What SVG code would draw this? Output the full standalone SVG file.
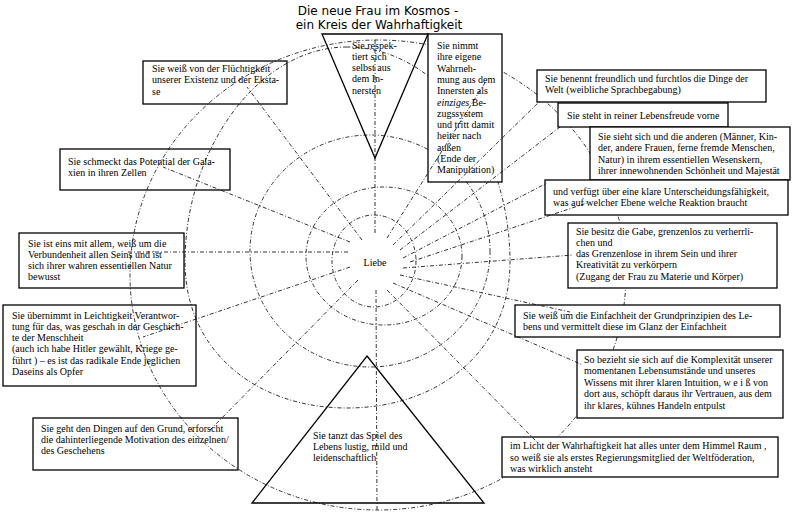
<svg xmlns="http://www.w3.org/2000/svg" width="800" height="514" viewBox="0 0 800 514" xml:space="preserve">
<style>
.b{fill:none;stroke:#000;stroke-width:1.3}
.bw{fill:#fff;stroke:#000;stroke-width:1.3}
.t{font-family:"Liberation Serif","Times New Roman",serif;font-size:10px;fill:#000}
.ti{font-family:"DejaVu Sans",Verdana,sans-serif;font-size:12px;fill:#000}
.c{fill:none;stroke:#111;stroke-width:0.85;stroke-dasharray:4 2 1 2}
</style>
<rect width="800" height="514" fill="#fff"/>
<g id="title">
<text class="ti" x="378" y="14.5" text-anchor="middle">Die neue Frau im Kosmos -</text>
<text class="ti" x="379" y="28.5" text-anchor="middle">ein Kreis der Wahrhaftigkeit</text>
</g>
<g id="rings">
<ellipse class="c" cx="374" cy="261" rx="42" ry="46"/>
<ellipse class="c" cx="384" cy="256" rx="78" ry="69"/>
<ellipse class="c" cx="370" cy="251" rx="120" ry="116"/>
<path class="c" d="M347,47 C258,47 185,150 185,262 C185,350 255,408 347,408 C440,408 510,350 510,262 C510,150 440,47 347,47 Z"/>
<ellipse class="c" cx="378" cy="275" rx="248" ry="235"/>
</g>
<g id="n_fluechtigkeit">
<rect class="b" x="143" y="61" width="144" height="43"/>
<text class="t" x="152" y="72">Sie weiß von der Flüchtigkeit</text>
<text class="t" x="152" y="83.3">unserer Existenz und der Eksta-</text>
<text class="t" x="152" y="94.6">se</text>
</g>
<g id="n_galaxien">
<rect class="b" x="60" y="149" width="170" height="41"/>
<text class="t" x="68" y="164.5">Sie schmeckt das Potential der Gala-</text>
<text class="t" x="68" y="175.8">xien in ihren Zellen</text>
</g>
<g id="n_eins">
<rect class="b" x="19" y="233" width="165" height="55"/>
<text class="t" x="28" y="246.5">Sie ist eins mit allem, weiß um die</text>
<text class="t" x="28" y="257.8">Verbundenheit allen Seins und ist</text>
<text class="t" x="28" y="269.1">sich ihrer wahren essentiellen Natur</text>
<text class="t" x="28" y="280.4">bewusst</text>
</g>
<g id="n_verantwortung">
<rect class="b" x="3" y="305" width="193" height="81"/>
<text class="t" x="12" y="318.5">Sie übernimmt in Leichtigkeit Verantwor-</text>
<text class="t" x="12" y="329.8">tung für das, was geschah  in der Geschich-</text>
<text class="t" x="12" y="341.1">te der Menschheit</text>
<text class="t" x="12" y="352.4">(auch ich habe Hitler gewählt, Kriege ge-</text>
<text class="t" x="12" y="363.7">führt ) – es ist das radikale Ende jeglichen</text>
<text class="t" x="12" y="375">Daseins als Opfer</text>
</g>
<g id="n_grund">
<rect class="b" x="33" y="418" width="205" height="52"/>
<text class="t" x="41" y="431.5">Sie geht den Dingen auf den Grund, erforscht</text>
<text class="t" x="41" y="442.8">die dahinterliegende Motivation des einzelnen/</text>
<text class="t" x="41" y="454.1">des Geschehens</text>
</g>
<g id="n_respekt">
<polygon class="b" points="322,34 428,34 375,158"/>
<text class="t" x="352" y="48.5">Sie respek-</text>
<text class="t" x="352" y="59.8">tiert sich</text>
<text class="t" x="352" y="71.1">selbst aus</text>
<text class="t" x="352" y="82.4">dem In-</text>
<text class="t" x="352" y="93.7">nersten</text>
</g>
<g id="n_wahrnehmung">
<rect class="bw" x="428" y="34" width="74" height="148"/>
<text class="t" x="437" y="49">Sie nimmt</text>
<text class="t" x="437" y="60.3">ihre eigene</text>
<text class="t" x="437" y="71.6">Wahrneh-</text>
<text class="t" x="437" y="82.9">mung aus dem</text>
<text class="t" x="437" y="94.2">Innersten als</text>
<text class="t" x="437" y="105.5"><tspan font-style="italic">einziges</tspan> Be-</text>
<text class="t" x="437" y="116.8">zugssystem</text>
<text class="t" x="437" y="128.1">und tritt damit</text>
<text class="t" x="437" y="139.4">heiter nach</text>
<text class="t" x="437" y="150.7">außen</text>
<text class="t" x="437" y="162">(Ende der</text>
<text class="t" x="437" y="173.3">Manipulation)</text>
</g>
<g id="n_benennt">
<rect class="bw" x="537" y="70" width="229" height="32"/>
<text class="t" x="545" y="81.5">Sie benennt freundlich und furchtlos die Dinge der</text>
<text class="t" x="545" y="93">Welt (weibliche Sprachbegabung)</text>
</g>
<g id="n_lebensfreude">
<rect class="bw" x="558" y="103" width="170" height="24"/>
<text class="t" x="567" y="118.5">Sie steht in reiner Lebensfreude vorne</text>
</g>
<g id="n_sieht">
<rect class="bw" x="590" y="127" width="200" height="53"/>
<text class="t" x="598" y="140">Sie sieht sich und die anderen (Männer, Kin-</text>
<text class="t" x="598" y="151.3">der, andere Frauen, ferne fremde Menschen,</text>
<text class="t" x="598" y="162.6">Natur) in ihrem essentiellen Wesenskern,</text>
<text class="t" x="598" y="173.9">ihrer innewohnenden Schönheit und Majestät</text>
</g>
<g id="n_unterscheidung">
<rect class="bw" x="545" y="180" width="243" height="35"/>
<text class="t" x="553" y="194.5">und verfügt über eine klare Unterscheidungsfähigkeit,</text>
<text class="t" x="553" y="206">was auf welcher Ebene welche Reaktion braucht</text>
</g>
<g id="n_gabe">
<rect class="bw" x="568" y="223" width="209" height="65"/>
<text class="t" x="576" y="234.5">Sie besitz die Gabe, grenzenlos zu verherrli-</text>
<text class="t" x="576" y="245.8">chen und</text>
<text class="t" x="576" y="257.1">das Grenzenlose in ihrem Sein und ihrer</text>
<text class="t" x="576" y="268.4">Kreativität zu verkörpern</text>
<text class="t" x="576" y="279.7">(Zugang der Frau zu Materie und Körper)</text>
</g>
<g id="n_einfachheit">
<rect class="bw" x="515" y="305" width="265" height="32"/>
<text class="t" x="523" y="318.5">Sie weiß um die Einfachheit der Grundprinzipien des Le-</text>
<text class="t" x="523" y="330">bens und vermittelt diese im Glanz der Einfachheit</text>
</g>
<g id="n_komplexitaet">
<rect class="bw" x="577" y="350" width="206" height="68"/>
<text class="t" x="584" y="362.5">So bezieht sie sich auf die Komplexität unserer</text>
<text class="t" x="584" y="374">momentanen Lebensumstände  und unseres</text>
<text class="t" x="584" y="385.5">Wissens mit ihrer klaren Intuition, w e i ß von</text>
<text class="t" x="584" y="397">dort aus, schöpft daraus ihr Vertrauen, aus dem</text>
<text class="t" x="584" y="408.5">ihr klares, kühnes Handeln entpulst</text>
</g>
<g id="n_licht">
<rect class="bw" x="502" y="437" width="276" height="40"/>
<text class="t" x="510" y="449">im Licht der Wahrhaftigkeit hat alles unter dem Himmel Raum ,</text>
<text class="t" x="510" y="460.5">so weiß sie als erstes Regierungsmitglied der Weltföderation,</text>
<text class="t" x="510" y="472">was  wirklich ansteht</text>
</g>
<g id="n_tanzt">
<polygon class="b" points="367,356 484,503 252,503"/>
<text class="t" x="313" y="438.5">Sie tanzt das Spiel des</text>
<text class="t" x="313" y="449.8">Lebens lustig, mild und</text>
<text class="t" x="313" y="461.1">leidenschaftlich</text>
</g>
<g id="n_liebe">
<text class="t" x="375" y="266" text-anchor="middle">Liebe</text>
</g>
<g id="connectors">
<line class="c" x1="375" y1="233" x2="375" y2="40"/>
<line class="c" x1="376" y1="290" x2="377" y2="512"/>
<line class="c" x1="348" y1="252" x2="128" y2="252"/>
<line class="c" x1="350" y1="242" x2="163" y2="167"/>
<line class="c" x1="362" y1="240" x2="247" y2="87"/>
<line class="c" x1="350" y1="267" x2="143" y2="337"/>
<line class="c" x1="358" y1="280" x2="210" y2="430"/>
<line class="c" x1="387" y1="238" x2="488" y2="78"/>
<line class="c" x1="393" y1="245" x2="540" y2="101"/>
<line class="c" x1="400" y1="250" x2="560" y2="127"/>
<line class="c" x1="403" y1="258" x2="547" y2="183"/>
<line class="c" x1="410" y1="262" x2="590" y2="202"/>
<line class="c" x1="403" y1="268" x2="573" y2="255"/>
<line class="c" x1="400" y1="275" x2="570" y2="312"/>
<line class="c" x1="393" y1="283" x2="583" y2="365"/>
<line class="c" x1="387" y1="290" x2="537" y2="442"/>
</g>
</svg>
